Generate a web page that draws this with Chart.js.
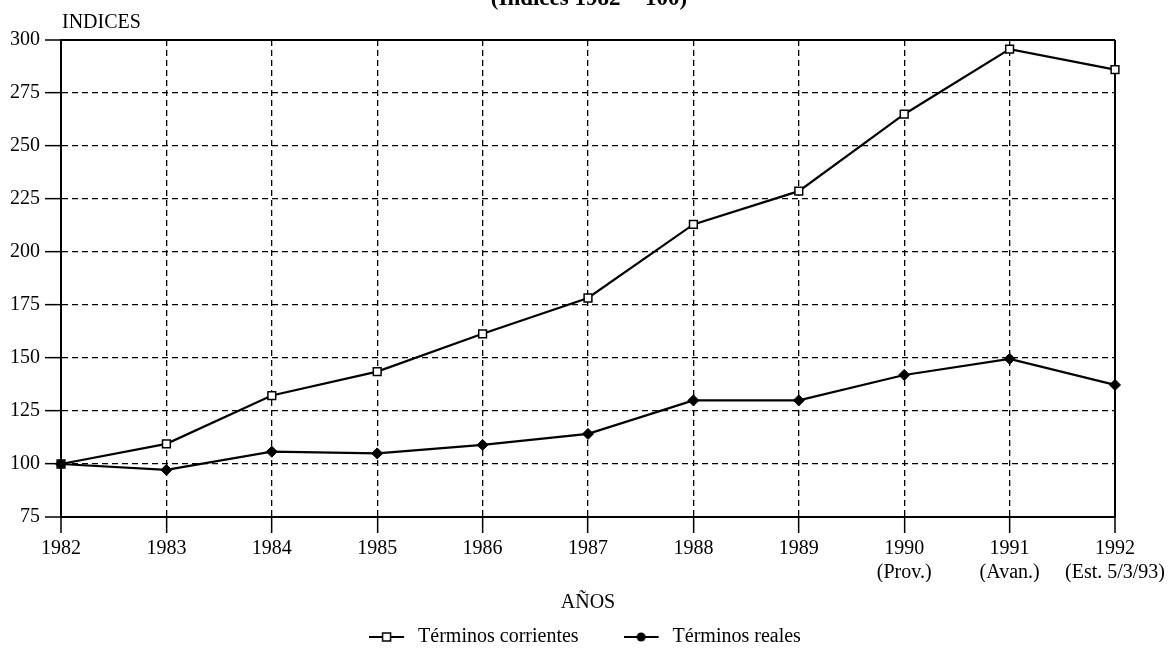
<!DOCTYPE html>
<html lang="es">
<head>
    <meta charset="UTF-8">
    <title>Indices 1982 = 100</title>
    <script src="https://cdn.jsdelivr.net/npm/chart.js"></script>
    <style>
        html, body { margin: 0; padding: 0; background: #fff; }
        #wrap { width: 1170px; height: 649px; }
    </style>
</head>
<body>
    <div id="wrap">
        <canvas id="grafico" width="1170" height="649"></canvas>
    </div>

    <script>
        // datos
        const anios = ['1982', '1983', '1984', '1985', '1986', '1987', '1988', '1989', '1990', '1991', '1992']
        const notas = ['', '', '', '', '', '', '', '', '(Prov.)', '(Avan.)', '(Est. 5/3/93)']
        const corrientes = [100, 109.5, 132.3, 143.6, 161.4, 178.3, 213, 228.7, 265, 295.7, 286]
        const reales = [100, 97.2, 105.8, 105, 109, 114.2, 130, 130, 142, 149.6, 137.3]
        const yMin = 75
        const yMax = 300
        const yPaso = 25

        const fuente = "'Liberation Serif', 'Times New Roman', serif"
        Chart.defaults.font.family = fuente
        Chart.defaults.font.size = 20
        Chart.defaults.color = '#000'

        const etiquetas = anios.map((a, i) => notas[i] ? [a, notas[i]] : a)

        // iconos de la leyenda: linea con marcador
        function icono(tipo) {
            const c = document.createElement('canvas')
            c.width = 39
            c.height = 12
            const g = c.getContext('2d')
            g.strokeStyle = '#000'
            g.lineWidth = 2
            g.beginPath()
            g.moveTo(0, 6)
            g.lineTo(35, 6)
            g.stroke()
            g.lineWidth = 1.5
            if (tipo === 'cuadro') {
                g.fillStyle = '#fff'
                g.fillRect(13.5, 2, 8, 8)
                g.strokeRect(13.5, 2, 8, 8)
            } else {
                g.fillStyle = '#000'
                g.beginPath()
                g.arc(17.5, 6, 4.5, 0, Math.PI * 2)
                g.fill()
            }
            return c
        }
        const iconos = [icono('cuadro'), icono('punto')]

        const borde = c => {
            const ult = c.scale.ticks.length - 1
            return c.index === 0 || c.index === ult
        }

        const textos = {
            id: 'textos',
            afterDraw(chart) {
                const ctx = chart.ctx
                ctx.save()
                ctx.fillStyle = '#000'
                ctx.textBaseline = 'alphabetic'
                ctx.font = "bold 23px " + fuente
                ctx.textAlign = 'center'
                ctx.fillText('(Indices 1982 = 100)', 589, 4.5)
                ctx.font = "20px " + fuente
                ctx.textAlign = 'left'
                ctx.fillText('INDICES', 62, 28)
                ctx.restore()
            }
        }

        const ctx = document.getElementById('grafico')

        let grafico = new Chart(ctx, {
            type: 'line',
            data: {
                labels: etiquetas,
                datasets: [{
                    label: 'Términos corrientes',
                    data: corrientes,
                    borderColor: '#000',
                    borderWidth: 2.2,
                    pointStyle: 'rect',
                    pointRadius: 5.5,
                    pointBackgroundColor: '#fff',
                    pointBorderColor: '#000',
                    pointBorderWidth: 1.5,
                    tension: 0,
                    order: 2
                }, {
                    label: 'Términos reales',
                    data: reales,
                    borderColor: '#000',
                    borderWidth: 2.2,
                    pointStyle: 'rectRot',
                    pointRadius: 5.5,
                    pointBackgroundColor: '#000',
                    pointBorderColor: '#000',
                    pointBorderWidth: 1,
                    tension: 0,
                    order: 1
                }]
            },
            options: {
                responsive: false,
                animation: false,
                events: [],
                layout: {
                    padding: { top: 40, left: 0, right: 0, bottom: -8 }
                },
                scales: {
                    x: {
                        type: 'category',
                        offset: false,
                        afterFit: s => { s.height = 65 },
                        grid: {
                            color: '#000',
                            lineWidth: c => borde(c) ? 2 : 1.3,
                            tickLength: 16,
                            tickWidth: 1.5,
                            tickColor: '#000',
                            tickBorderDash: []
                        },
                        border: {
                            color: '#000',
                            width: 2,
                            dash: c => borde(c) ? [] : [6, 4]
                        },
                        ticks: {
                            autoSkip: false,
                            maxRotation: 0,
                            padding: 4,
                            color: '#000'
                        },
                        title: {
                            display: true,
                            text: 'AÑOS',
                            color: '#000',
                            padding: { top: 0, bottom: -33 }
                        }
                    },
                    y: {
                        min: yMin,
                        max: yMax,
                        afterFit: s => { s.width = 61 },
                        grid: {
                            color: '#000',
                            lineWidth: c => borde(c) ? 2 : 1.3,
                            tickLength: 16,
                            tickWidth: 1.5,
                            tickColor: '#000',
                            tickBorderDash: []
                        },
                        border: {
                            color: '#000',
                            width: 2,
                            dash: c => borde(c) ? [] : [6, 4]
                        },
                        ticks: {
                            stepSize: yPaso,
                            padding: 5,
                            color: '#000'
                        }
                    },
                    derecha: {
                        type: 'linear',
                        position: 'right',
                        display: true,
                        afterFit: s => { s.width = 55 },
                        grid: { display: false },
                        border: { display: false },
                        ticks: { display: false }
                    }
                },
                plugins: {
                    tooltip: { enabled: false },
                    legend: {
                        position: 'bottom',
                        labels: {
                            usePointStyle: true,
                            pointStyleWidth: 39,
                            padding: 45,
                            color: '#000',
                            font: { size: 20 },
                            generateLabels: chart => chart.data.datasets.map((ds, i) => ({
                                text: ds.label,
                                pointStyle: iconos[i],
                                fillStyle: '#000',
                                strokeStyle: '#000',
                                lineWidth: 0,
                                hidden: false,
                                datasetIndex: i,
                                fontColor: '#000'
                            }))
                        }
                    }
                }
            },
            plugins: [textos]
        });
    </script>
</body>
</html>
